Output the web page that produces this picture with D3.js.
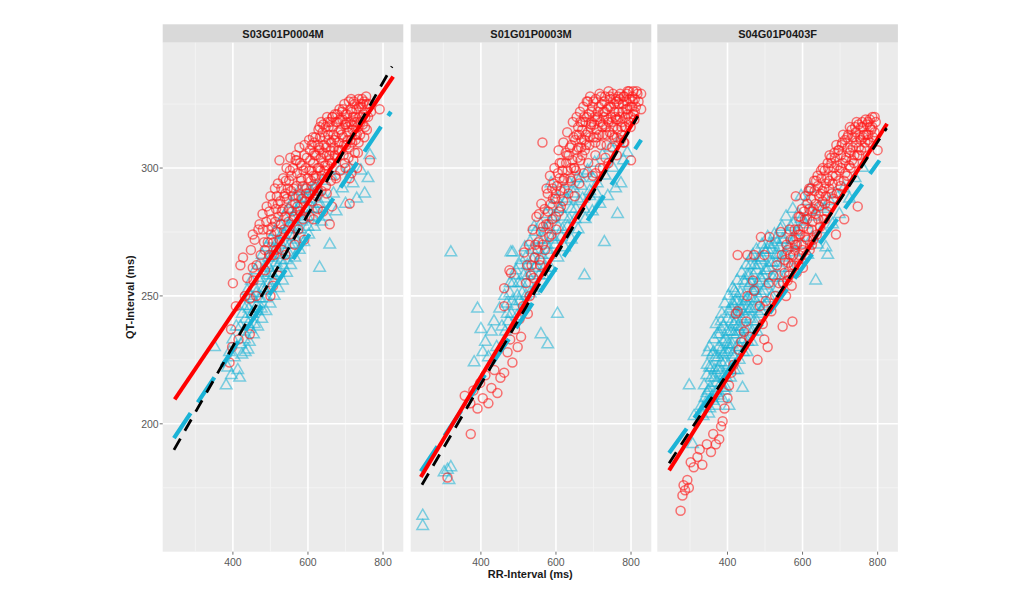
<!DOCTYPE html>
<html>

<head>
    <meta charset="utf-8">
    <style>
        body {
            margin: 0;
            background-color: white;
        }

        svg {
            display: block;
            font-family: 'Liberation Sans', Arial, sans-serif;
        }
    </style>
</head>

<body>
    <svg width="1024" height="605"></svg>
</body>

<script src="https://d3js.org/d3.v7.min.js"></script>

<script>
    // facet titles
    let panels = ["S03G01P0004M", "S01G01P0003M", "S04G01P0403F"];

    let xTicks = [400, 600, 800];
    let xMinor = [300, 500, 700];
    let yTicks = [200, 250, 300];
    let yMinor = [175, 225, 275, 325];

    // fitted lines per panel: [rr1, qt1, rr2, qt2]
    let fitRed = [
        [245, 209.6, 827, 335.7],
        [240, 179.2, 818, 320.8],
        [244.5, 181.8, 825, 317.3]
    ];
    let fitCyan = [
        [243, 194.4, 821, 322],
        [240, 181.4, 827, 311],
        [244.5, 188.6, 805, 303]
    ];
    let fitBlack = [
        [243, 189.8, 824, 339.7],
        [243, 176.2, 818, 320.2],
        [244.5, 184.6, 824, 315.6]
    ];

    // red circles, panel 1 (RR, QT)
    let p1Red = [[391,224],[395,237],[398,230],[400,255],[408,246],[415,233],[420,262],[427,265],[432,250],[438,257],
        [445,249],[445,235],[448,268],[453,274],[453,261],[455,256],[458,272],[462,250],[463,262],[468,276],[471,278],
        [474,266],[479,282],[480,276],[483,271],[486,260],[490,285],[494,276],[497,266],[500,289],[500,250],[503,280],
        [507,254],[508,271],[512,292],[515,284],[518,275],[520,294],[520,258],[524,303],[526,287],[528,278],[531,268],
        [534,296],[537,289],[540,281],[540,266],[543,300],[546,292],[549,284],[551,274],[553,304],[556,297],[559,289],
        [562,281],[565,270],[567,303],[568,305],[570,293],[572,285],[574,276],[577,308],[579,302],[582,296],[584,288],
        [587,280],[590,272],[591,309],[594,300],[596,292],[599,284],[603,311],[606,303],[608,295],[611,287],[613,312],
        [615,280],[616,306],[618,305],[621,297],[623,289],[628,315],[631,316],[631,307],[633,299],[636,291],[640,283],
        [641,317],[643,309],[646,301],[648,293],[651,320],[653,318],[656,311],[658,303],[658,278],[661,295],[664,285],
        [666,320],[668,313],[671,305],[673,297],[678,321],[681,314],[683,307],[686,299],[691,322],[693,323],[696,309],
        [698,302],[701,317],[703,318],[706,311],[708,304],[711,286],[711,296],[713,323],[716,317],[716,298],[718,310],
        [721,303],[724,325],[727,320],[730,313],[731,300],[733,306],[736,324],[740,318],[744,327],[747,325],[748,321],
        [752,316],[756,325],[760,320],[765,303],[768,322],[791,323]];
    let p1RedCore = [[562,292],[566,286],[571,298],[575,289],[578,283],[583,301],[586,293],[588,299],[592,287],[597,304],
        [600,296],[602,290],[605,307],[609,299],[612,293],[614,302],[617,310],[619,296],[622,305],[625,291],[627,309],
        [629,300],[632,312],[634,304],[637,297],[639,314],[642,306],[644,299],[647,316],[649,308],[652,301],[654,313],
        [657,305],[659,318],[662,310],[664,302],[667,316],[669,308],[672,321],[674,312],[677,304],[679,318],[682,310],
        [684,323],[687,315],[689,307],[692,319],[694,312],[697,325],[699,317],[702,309],[704,321],[707,314],[709,326],
        [712,318],[714,311],[717,322],[719,315],[722,326],[724,318],[727,311],[729,323],[732,316],[735,327],[737,320],
        [739,313],[743,324],[746,317],[750,326],[753,320],[757,315],[762,325],[485,268],[489,279],[493,271],[497,283],
        [502,274],[506,286],[509,266],[513,279],[517,289],[521,281],[525,272],[529,292],[533,284],[536,276],[541,295],
        [544,288],[548,279],[552,299],[555,291],[558,283],[604,281],[626,284],[650,290],[675,296],[700,300],[725,306]];
    let p1RedFill = [[581,295],[590,305],[595,290],[604,299],[610,309],[615,297],[620,312],[626,300],[630,308],[635,318],
        [640,302],[645,312],[650,305],[655,316],[660,307],[665,320],[670,311],[675,318],[680,307],[685,319],[690,313],
        [695,305],[700,321],[705,316],[710,308],[715,327],[720,320],[725,313],[730,318],[735,310],[740,325],[745,320],
        [750,312],[755,328],[520,286],[530,283],[540,290],[550,295],[560,300],[570,303],[505,277],[515,268]];

    // cyan triangles, panel 1
    let p1Cyan = [[351,230],[382,215],[386,222],[391,228],[396,219],[400,233],[404,226],[409,238],[413,221],[418,218],
        [421,231],[425,243],[429,236],[433,228],[437,246],[441,239],[444,232],[448,250],[452,243],[455,235],[459,253],
        [463,246],[466,238],[470,256],[474,249],[477,241],[481,259],[485,252],[488,244],[492,262],[496,255],[499,247],
        [503,265],[507,258],[510,250],[514,268],[518,261],[521,253],[525,271],[529,264],[532,256],[536,274],[540,267],
        [543,259],[547,277],[551,270],[554,262],[558,280],[562,273],[565,265],[569,283],[573,276],[577,268],[581,286],
        [585,279],[589,271],[594,288],[598,281],[602,274],[607,291],[612,284],[617,277],[622,293],[627,286],[631,261],
        [636,279],[640,295],[645,288],[650,281],[658,270],[662,297],[668,290],[675,283],[685,299],[692,292],[700,286],
        [710,300],[720,294],[730,288],[741,299],[751,290],[760,296],[765,305]];
    let p1CyanCore = [[420,238],[424,227],[427,246],[431,233],[434,241],[438,252],[440,229],[443,245],[446,237],[449,256],
        [451,243],[454,249],[457,239],[459,260],[462,251],[465,244],[468,262],[470,249],[473,257],[476,245],[478,266],
        [481,253],[484,261],[487,249],[489,269],[492,258],[495,265],[498,253],[501,272],[503,259],[506,268],[509,256],
        [512,275],[515,263],[518,271],[521,259],[524,278],[527,266],[530,274],[533,262],[536,281],[539,270],[542,264],
        [545,276],[548,284],[551,266],[554,277],[557,286],[560,270],[563,281],[566,289],[570,272],[573,284],[577,291],
        [580,276],[584,288],[588,280],[592,292],[596,284],[600,277],[605,288],[610,281],[615,292],[620,284],[626,291],
        [632,286]];

    // red circles, panel 2
    let p2Red = [[311,179],[373,196],[357,211],[372,208],[380,213],[391,206],[398,216],[405,210],[412,219],[420,208],
        [428,214],[436,221],[444,212],[452,218],[462,220],[471,228],[478,233],[484,224],[491,237],[498,230],[503,241],
        [507,234],[512,246],[462,246],[462,253],[476,260],[480,259],[515,267],[525,243],[520,255],[530,250],[535,262],
        [540,257],[545,270],[551,268],[555,282],[556,264],[560,275],[565,270],[564,310],[570,284],[574,278],[578,290],
        [582,273],[586,286],[590,280],[594,294],[598,288],[601,276],[605,298],[608,283],[612,291],[615,302],[619,287],
        [622,296],[626,306],[631,299],[633,290],[637,308],[640,295],[644,303],[647,312],[650,289],[653,299],[656,307],
        [659,316],[662,294],[665,303],[668,311],[671,318],[674,298],[677,307],[680,313],[683,320],[686,302],[689,309],
        [692,316],[695,322],[698,297],[702,317],[705,305],[708,312],[711,320],[714,324],[717,300],[720,309],[723,316],
        [726,322],[729,326],[732,304],[735,313],[738,319],[741,324],[744,328],[747,320],[750,308],[753,316],[756,322],
        [759,327],[762,312],[765,319],[768,325],[771,329],[774,316],[777,322],[780,310],[782,328],[785,320],[788,326],
        [791,330],[794,318],[797,324],[800,303],[803,328],[806,321],[810,327],[815,330],[820,326],[827,329],[827,323],
        [782,310]];
    let p2RedCore = [[523,262],[528,270],[533,258],[538,276],[543,265],[548,281],[553,271],[558,262],[561,286],[566,277],
        [571,268],[575,292],[579,283],[584,297],[588,274],[592,288],[596,300],[600,281],[603,293],[607,307],[610,296],
        [613,285],[617,299],[620,310],[623,292],[627,302],[630,314],[634,305],[638,296],[641,309],[645,318],[648,300],
        [651,311],[655,320],[658,304],[661,313],[664,322],[667,308],[670,315],[673,324],[676,311],[679,318],[682,326],
        [685,314],[688,321],[691,328],[694,317],[697,324],[700,312],[703,320],[706,327],[709,315],[712,322],[716,329],
        [719,318],[722,325],[725,313],[728,320],[731,328],[734,316],[737,323],[740,330],[743,314],[746,324],[749,318],
        [752,329],[755,312],[758,320],[761,326],[764,315],[767,322],[770,327],[773,311],[776,318],[779,325],[783,316],
        [786,323],[789,329],[792,321],[796,327],[799,316],[802,324],[806,330],[809,319],[813,324],[817,329],[762,305],
        [740,302],[725,300],[705,298]];
    let p2RedFill = [[650,300],[655,313],[660,308],[665,318],[670,305],[675,320],[680,309],[685,326],[690,312],[695,318],
        [700,326],[705,310],[710,319],[715,313],[720,328],[725,317],[730,322],[735,309],[740,318],[745,327],[750,313],
        [755,325],[760,319],[765,328],[770,320],[775,313],[780,328],[785,316],[790,323],[795,330],[800,320],[805,326],
        [810,322],[600,290],[610,302],[620,295],[630,305],[640,300],[580,278],[590,292]];

    // cyan triangles, panel 2
    let p2Cyan = [[245,160],[245,164],[302,181],[311,182],[320,183],[315,178],[320,267],[382,224],[391,245],[400,237],
        [405,228],[412,232],[420,226],[428,236],[435,240],[442,230],[450,245],[456,238],[463,250],[470,243],[478,255],
        [480,267],[484,248],[485,267],[490,258],[497,250],[503,262],[508,255],[514,246],[520,265],[525,258],[531,251],
        [537,268],[542,277],[544,261],[550,254],[555,272],[560,235],[561,264],[567,258],[572,276],[578,231],[579,268],
        [585,261],[587,294],[591,280],[597,272],[604,243],[605,265],[611,284],[617,276],[623,269],[629,288],[635,280],
        [641,272],[647,292],[653,284],[659,276],[665,296],[671,288],[676,258],[678,280],[684,299],[690,291],[697,283],
        [703,302],[710,294],[717,286],[724,305],[729,271],[731,297],[738,289],[745,308],[752,300],[759,292],[764,282],
        [766,310],[773,294],[780,303],[790,306]];
    let p2CyanCore = [[465,236],[469,247],[473,240],[477,251],[481,243],[486,255],[489,246],[493,260],[496,242],[500,255],
        [503,248],[507,264],[510,251],[514,258],[517,269],[520,250],[524,262],[527,255],[531,271],[534,259],[538,264],
        [541,252],[545,275],[548,262],[552,268],[555,258],[559,278],[562,266],[566,272],[569,261],[573,282],[576,270],
        [580,277],[583,266],[587,285],[590,273],[594,281],[598,270],[602,288],[606,277],[610,284],[614,273],[618,291],
        [622,281],[627,287],[631,277],[636,294],[641,284],[646,290],[651,280],[656,296],[662,287],[668,293],[675,284],
        [682,298],[690,289],[698,296],[708,290]];

    // red circles, panel 3
    let p3Red = [[275,166],[280,172],[283,176],[287,174],[293,178],[297,175],[302,185],[310,183],[320,187],[326,190],
        [333,184],[345,192],[356,189],[362,196],[369,192],[378,194],[383,199],[387,201],[392,206],[400,210],[404,215],
        [410,220],[416,223],[422,243],[427,244],[427,266],[430,229],[437,232],[444,236],[450,240],[453,250],[453,266],
        [458,234],[468,256],[471,252],[471,266],[480,225],[486,246],[489,273],[494,239],[498,233],[498,266],[502,248],
        [507,230],[510,255],[512,273],[517,244],[522,258],[527,250],[532,262],[537,255],[542,275],[545,266],[547,238],
        [552,259],[557,270],[562,263],[565,276],[568,272],[573,240],[575,266],[579,276],[582,289],[585,270],[590,281],
        [590,262],[594,274],[598,284],[603,277],[607,289],[612,280],[616,291],[618,284],[622,292],[625,270],[626,283],
        [631,295],[635,286],[640,297],[644,289],[649,299],[653,291],[658,292],[660,280],[662,294],[667,302],[671,295],
        [676,304],[680,297],[685,306],[689,274],[693,301],[697,290],[697,307],[702,300],[706,310],[711,280],[714,303],
        [719,312],[724,301],[728,307],[733,312],[738,305],[742,314],[747,285],[751,305],[755,311],[760,316],[765,308],
        [770,313],[775,318],[780,310],[786,316],[792,320],[800,307]];
    let p3RedCore = [[548,255],[553,264],[556,250],[560,268],[564,258],[567,266],[571,254],[574,272],[577,262],[581,270],
        [584,259],[588,276],[591,266],[594,281],[597,270],[601,261],[604,283],[607,273],[610,266],[613,286],[616,276],
        [619,268],[623,288],[626,279],[629,272],[632,291],[635,282],[638,274],[641,293],[644,285],[647,277],[650,296],
        [653,287],[656,280],[659,299],[662,289],[665,283],[668,300],[671,292],[674,285],[677,302],[680,294],[683,288],
        [686,304],[689,297],[692,290],[695,307],[698,299],[701,293],[704,309],[707,302],[710,295],[713,311],[716,304],
        [719,297],[722,313],[725,306],[728,300],[731,315],[734,308],[737,302],[740,316],[743,310],[746,305],[749,317],
        [752,312],[756,307],[759,318],[763,313],[767,310],[771,317],[775,313],[779,319],[783,315],[788,312],[795,318]];
    let p3RedFill = [[600,268],[606,280],[612,272],[618,292],[624,276],[630,284],[636,295],[642,280],[648,290],[654,300],
        [660,286],[666,296],[672,305],[678,290],[684,300],[690,309],[696,295],[702,305],[708,313],[714,298],[720,308],
        [726,316],[732,303],[738,312],[744,318],[750,308],[756,316],[762,312],[768,319],[774,311],[780,316],[786,320],
        [792,314],[570,262],[580,268],[590,274],[560,256]];

    // cyan triangles, panel 3
    let p3Cyan = [[298,215],[307,192],[311,203],[330,207],[340,210],[345,219],[347,228],[350,204],[355,214],[358,222],
        [362,209],[365,218],[368,226],[371,212],[374,221],[377,230],[380,215],[382,237],[383,224],[386,210],[388,232],
        [391,219],[394,228],[396,214],[399,236],[402,223],[404,207],[405,231],[408,218],[411,240],[413,227],[413,247],
        [416,235],[418,246],[419,221],[422,251],[422,243],[425,230],[428,238],[431,225],[433,246],[436,233],[439,241],
        [440,214],[442,228],[445,250],[448,237],[451,245],[454,232],[457,254],[460,241],[462,262],[463,249],[466,236],
        [469,258],[472,245],[475,253],[478,240],[481,262],[484,249],[487,257],[490,244],[493,265],[496,252],[500,260],
        [503,247],[507,268],[510,255],[514,263],[518,250],[522,270],[526,258],[530,266],[534,253],[538,269],[542,261],
        [546,272],[550,257],[555,266],[560,274],[565,261],[570,270],[575,278],[578,267],[584,275],[590,264],[596,280],
        [602,270],[608,278],[614,266],[620,283],[626,273],[632,281],[635,256],[640,270],[646,285],[652,276],[658,284],
        [662,269],[667,266],[672,287],[680,278],[688,290],[698,282],[710,292],[725,288],[740,296],[760,300]];
    let p3CyanCore = [[335,203],[338,215],[342,208],[346,223],[349,213],[352,230],[353,206],[357,218],[360,227],[361,211],
        [364,233],[366,221],[369,207],[370,239],[372,216],[375,226],[376,211],[379,235],[381,220],[384,229],[385,243],
        [387,214],[389,238],[392,224],[393,247],[395,233],[397,218],[400,241],[401,228],[403,250],[406,236],[407,221],
        [410,245],[412,231],[414,253],[417,239],[418,226],[421,248],[424,235],[426,256],[427,221],[429,243],[432,230],
        [434,251],[436,238],[438,259],[441,246],[443,233],[446,255],[448,242],[450,262],[452,228],[453,249],[456,237],
        [458,258],[461,245],[463,265],[465,232],[467,252],[470,240],[472,262],[474,248],[477,268],[479,236],[481,255],
        [484,243],[486,265],[489,251],[492,270],[495,258],[498,246],[501,267],[504,254],[507,273],[510,261],[514,249],
        [517,268],[521,257],[525,274],[529,263],[533,271],[537,258],[541,276],[546,265],[551,272],[556,281],[562,269],
        [568,277],[574,284],[581,273],[588,282],[596,289],[604,279],[612,287],[620,292]];
    let p3CyanFill = [[345,212],[352,222],[358,210],[363,228],[368,216],[373,235],[378,222],[383,240],[388,227],[393,213],
        [398,231],[403,244],[408,229],[413,236],[418,252],[423,240],[428,248],[433,236],[438,244],[443,256],[448,248],
        [453,258],[458,244],[463,255],[468,266],[473,252],[478,260],[483,246],[488,264],[493,256],[498,268],[505,260],
        [512,270],[520,263],[528,272],[536,266],[545,277]];

    let redPoints = [
        p1Red.concat(p1RedCore, p1RedFill),
        p2Red.concat(p2RedCore, p2RedFill),
        p3Red.concat(p3RedCore, p3RedFill)
    ];
    let cyanPoints = [
        p1Cyan.concat(p1CyanCore),
        p2Cyan.concat(p2CyanCore),
        p3Cyan.concat(p3CyanCore, p3CyanFill)
    ];

    let svg = d3.select("svg");

    let panelLeft = [162.7, 410.7, 657.3];
    let panelW = 240.6;
    let stripTop = 24.3;
    let panelTop = 42.7;
    let panelBottom = 551.7;

    let y = d3.scaleLinear()
        .domain([150, 349])
        .range([panelBottom, panelTop]);

    let red = "#ff1a1a";
    let cyan = "#1ab3d6";

    panels.forEach((name, i) => {

        let x = d3.scaleLinear()
            .domain([213, 854])
            .range([panelLeft[i], panelLeft[i] + panelW]);

        let g = svg.append("g");

        // strip
        g.append("rect")
            .attr("x", panelLeft[i])
            .attr("y", stripTop)
            .attr("width", panelW)
            .attr("height", panelTop - stripTop)
            .style("fill", "#d9d9d9")

        g.append("text")
            .attr("x", panelLeft[i] + panelW / 2)
            .attr("y", (stripTop + panelTop) / 2 + 4)
            .attr("text-anchor", "middle")
            .style("font-size", "11px")
            .style("font-weight", "bold")
            .style("fill", "#1a1a1a")
            .text(name)

        // panel background
        g.append("rect")
            .attr("x", panelLeft[i])
            .attr("y", panelTop)
            .attr("width", panelW)
            .attr("height", panelBottom - panelTop)
            .style("fill", "#ebebeb")

        // minor grid
        g.selectAll(".xminor")
            .data(xMinor)
            .join("line")
            .attr("x1", d => x(d))
            .attr("x2", d => x(d))
            .attr("y1", panelTop)
            .attr("y2", panelBottom)
            .style("stroke", "#f5f5f5")
            .style("stroke-width", 0.8)

        g.selectAll(".yminor")
            .data(yMinor)
            .join("line")
            .attr("x1", panelLeft[i])
            .attr("x2", panelLeft[i] + panelW)
            .attr("y1", d => y(d))
            .attr("y2", d => y(d))
            .style("stroke", "#f5f5f5")
            .style("stroke-width", 0.8)

        // major grid
        g.selectAll(".xmajor")
            .data(xTicks)
            .join("line")
            .attr("x1", d => x(d))
            .attr("x2", d => x(d))
            .attr("y1", panelTop)
            .attr("y2", panelBottom)
            .style("stroke", "white")
            .style("stroke-width", 1.6)

        g.selectAll(".ymajor")
            .data(yTicks)
            .join("line")
            .attr("x1", panelLeft[i])
            .attr("x2", panelLeft[i] + panelW)
            .attr("y1", d => y(d))
            .attr("y2", d => y(d))
            .style("stroke", "white")
            .style("stroke-width", 1.6)

        // x axis ticks and labels
        g.selectAll(".xtick")
            .data(xTicks)
            .join("line")
            .attr("x1", d => x(d))
            .attr("x2", d => x(d))
            .attr("y1", panelBottom)
            .attr("y2", panelBottom + 3)
            .style("stroke", "#4d4d4d")
            .style("stroke-width", 0.8)

        g.selectAll(".xlab")
            .data(xTicks)
            .join("text")
            .attr("x", d => x(d))
            .attr("y", panelBottom + 14)
            .attr("text-anchor", "middle")
            .style("font-size", "10.5px")
            .style("fill", "#595959")
            .text(d => d)

        // triangles (cyan) under circles (red)
        g.selectAll(".tri")
            .data(cyanPoints[i])
            .join("path")
            .attr("d", d3.symbol().type(d3.symbolTriangle).size(58))
            .attr("transform", d => "translate(" + x(d[0]) + "," + y(d[1]) + ")")
            .style("fill", "none")
            .style("stroke", cyan)
            .style("stroke-opacity", 0.55)
            .style("stroke-width", 1.5)

        g.selectAll(".circ")
            .data(redPoints[i])
            .join("circle")
            .attr("cx", d => x(d[0]))
            .attr("cy", d => y(d[1]))
            .attr("r", 4.5)
            .style("fill", "none")
            .style("stroke", red)
            .style("stroke-opacity", 0.6)
            .style("stroke-width", 1.5)

        // fitted lines
        let fits = [
            { f: fitCyan[i], color: cyan, w: 4.2, dash: "30,13" },
            { f: fitRed[i], color: "#ff0000", w: 4, dash: null },
            { f: fitBlack[i], color: "black", w: 2.8, dash: "13,9" }
        ];

        g.selectAll(".fit")
            .data(fits)
            .join("line")
            .attr("x1", d => x(d.f[0]))
            .attr("y1", d => y(d.f[1]))
            .attr("x2", d => x(d.f[2]))
            .attr("y2", d => y(d.f[3]))
            .style("stroke", d => d.color)
            .style("stroke-width", d => d.w)
            .style("stroke-dasharray", d => d.dash)
    })

    // y axis ticks and labels (first panel only)
    svg.selectAll(".ytick")
        .data(yTicks)
        .join("line")
        .attr("x1", panelLeft[0] - 3)
        .attr("x2", panelLeft[0])
        .attr("y1", d => y(d))
        .attr("y2", d => y(d))
        .style("stroke", "#4d4d4d")
        .style("stroke-width", 0.8)

    svg.selectAll(".ylab")
        .data(yTicks)
        .join("text")
        .attr("x", panelLeft[0] - 4)
        .attr("y", d => y(d) + 4)
        .attr("text-anchor", "end")
        .style("font-size", "10.5px")
        .style("fill", "#595959")
        .text(d => d)

    // axis titles
    svg.append("text")
        .attr("transform", "translate(134," + ((panelTop + panelBottom) / 2) + ") rotate(-90)")
        .attr("text-anchor", "middle")
        .style("font-size", "11px")
        .style("font-weight", "bold")
        .style("fill", "#1a1a1a")
        .text("QT-Interval (ms)")

    svg.append("text")
        .attr("x", (panelLeft[0] + panelLeft[2] + panelW) / 2)
        .attr("y", 578)
        .attr("text-anchor", "middle")
        .style("font-size", "11px")
        .style("font-weight", "bold")
        .style("fill", "#1a1a1a")
        .text("RR-Interval (ms)")
</script>

</html>
